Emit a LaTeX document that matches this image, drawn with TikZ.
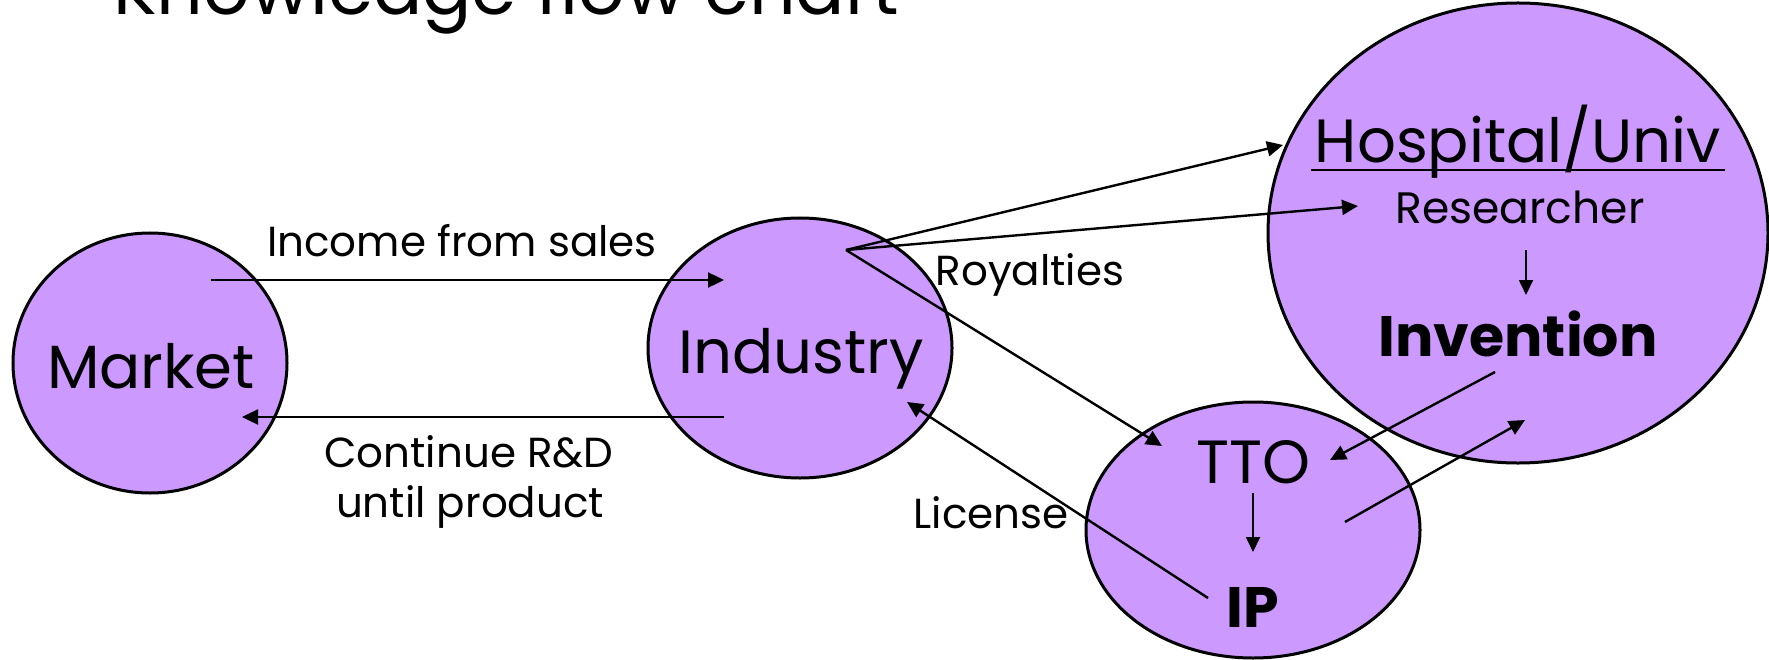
\documentclass[tikz,border=0pt]{standalone}
\usepackage{fontspec}
\setmainfont{Poppins}
\usepackage{tikz}
\usetikzlibrary{shapes,arrows.meta}

\definecolor{lilac}{HTML}{CC99FF}
\tikzset{
  blob/.style={draw,ellipse,fill=lilac,line width=3bp,inner sep=0pt},
  flow/.style={line width=2.4bp,-{Triangle[length=16bp,width=15bp]}},
  thinflow/.style={line width=1.8bp,-{Triangle[length=15bp,width=14bp]}},
  big/.style={anchor=base,font=\fontsize{61bp}{66bp}\selectfont},
  bigbold/.style={anchor=base,font=\fontsize{57bp}{62bp}\selectfont\bfseries},
  mid/.style={anchor=base,font=\fontsize{42bp}{48bp}\selectfont},
}

\begin{document}
\begin{tikzpicture}[x=1bp,y=-1bp]
 \useasboundingbox (0,0) rectangle (1769,660);
 % title, cut off by the page top
 \node[anchor=base,font=\fontsize{73bp}{73bp}\selectfont] (title) at (506,15) {Knowledge flow chart};

 % the four bubbles
 \node[blob,minimum width=274bp,minimum height=260bp] (market) at (150,363) {};
 \node[blob,minimum width=304bp,minimum height=260bp] (industry) at (800,348) {};
 \node[blob,minimum width=500bp,minimum height=460bp] (hospital) at (1518,233) {};
 \node[blob,minimum width=334bp,minimum height=256bp] (tto) at (1253,530) {};

 \node[big] (mkt) at (151,388) {Market};
 \node[big] (ind) at (801,373) {Industry};
 \node[big] (hosp) at (1518,163) {Hospital/Univ};
 \draw[line width=2.8bp] ([yshift=-7bp]hosp.base west) -- ([yshift=-7bp]hosp.base east);
 \node[anchor=base,font=\fontsize{44bp}{48bp}\selectfont] (res) at (1520,223) {Researcher};
 \node[bigbold] (inv) at (1518,356) {Invention};
 \node[big] (ttotxt) at (1253,483) {TTO};
 \node[bigbold] (ip) at (1253,627) {IP};

 % labels
 \node[mid] (income) at (462,256) {Income from sales};
 \node[mid] (contA) at (469,467) {Continue R\&D};
 \node[mid] (contB) at (470,517) {until product};
 \node[mid] (roy) at (1030,285) {Royalties};
 \node[mid] (lic) at (991,528) {License};

 % arrow ends
 \coordinate (incA) at (211,280);
 \coordinate (incB) at (724,280);
 \coordinate (rdA) at (724,417);
 \coordinate (rdB) at (242,417);
 \coordinate (hub) at (846,250);
 \coordinate (hospIn) at (1283,145);
 \coordinate (resIn) at (1358,206);
 \coordinate (ttoIn) at (1162,446);
 \coordinate (licA) at (1208,598);
 \coordinate (licB) at (907,402);
 \coordinate (invOut) at (1495,372);
 \coordinate (ttoBack) at (1330,460);
 \coordinate (ttoOut) at (1345,522);
 \coordinate (invIn) at (1525,420);
 \coordinate (resDown) at (1526,250);
 \coordinate (invTop) at (1526,295);
 \coordinate (ttoDown) at (1253,493);
 \coordinate (ipTop) at (1253,552);

 \draw[flow] (incA) -- (incB);
 \draw[flow] (rdA) -- (rdB);
 \draw[flow] (hub) -- (hospIn);
 \draw[flow] (hub) -- (resIn);
 \draw[flow] (hub) -- (ttoIn);
 \draw[flow] (licA) -- (licB);
 \draw[flow] (invOut) -- (ttoBack);
 \draw[flow] (ttoOut) -- (invIn);
 \draw[thinflow] (resDown) -- (invTop);
 \draw[thinflow] (ttoDown) -- (ipTop);
\end{tikzpicture}
\end{document}
